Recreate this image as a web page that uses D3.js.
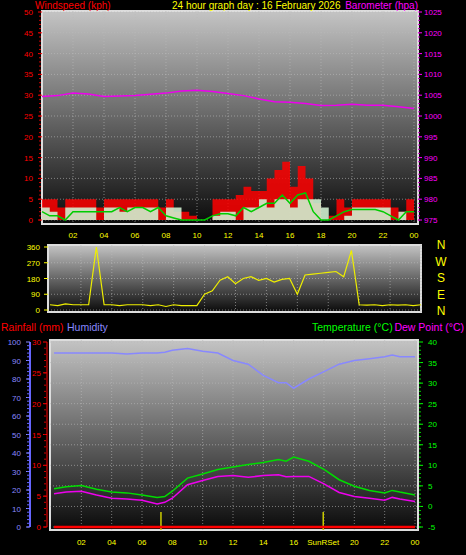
<!DOCTYPE html>
<html><head><meta charset="utf-8">
<script src="https://cdn.jsdelivr.net/npm/d3@7"></script>
<style>body{margin:0;background:#000}svg{display:block;font-family:"Liberation Sans",Arial,sans-serif}</style>
</head><body><svg id="c" width="466" height="555"></svg>
<script>
'use strict';

// Data (half-hour steps, 0..24 h)
const halfHours = d3.range(0, 24.01, 0.5);
const gust = [5,5,3,5,5,5,5,3,5,5,5,5,5,5,5,3,5,2,2,1,0,0,5,5,5,6,8,7,7,10,12,14,8,13,10,4,0,1,5,3,5,5,5,5,5,3,2,5,5];
const avgWind = [2,1,1,0,2,2,2,2,2,2,3,2,3,3,2,3,1,0.5,0,0,0,0,1,1.5,1.5,1,3,2,3,4,4,6,4,6,6.5,2,0,0,1,2,2.5,2.5,2.5,2.5,2,1,0,2,2];
const speed = [3,2,0,3,3,3,3,0,3,3,2,3,3,3,3,0,3,3,0,0,0,0,1,2,2,0,3,3,5,3,5,5,3,5,5,5,3,0,0,1,3,3,3,3,3,0,2,0,3];
const direction = [30,25,35,30,30,30,360,30,30,25,30,30,30,25,30,20,30,25,25,25,90,110,170,190,150,180,190,170,180,160,175,180,90,200,205,210,215,220,190,340,30,28,30,25,30,28,30,25,30];
const baroHours = d3.range(0, 25);
const baro = [1004.7,1004.9,1005.5,1005.3,1004.7,1004.8,1004.9,1005.2,1005.5,1006,1006.2,1005.9,1005.4,1004.9,1004.1,1003.4,1003.3,1003,1002.5,1002.6,1002.8,1002.6,1002.6,1002.2,1001.8];
const thHours = [0.2,1,2,3,4,5,6,7,7.5,8,9,10,11,12,13,14,15,15.5,16,17,18,19,20,21,22,22.5,23,24];
const humidity = [94,94,94,94,94,93.5,94,94,94.5,95.5,96.5,95,94,90,88,82,78,78,75,80,84,88,90,91,92,93,92,92];
const temperature = [4.3,4.8,5.1,4.2,3.5,3.3,2.8,2.2,2.4,3.7,6.9,7.9,9,9.6,10.2,10.7,11.4,11,12,11,9,6.5,4.9,3.9,3.3,3.9,3.5,2.8];
const dewPoint = [3.1,3.5,3.7,2.8,2,1.8,1.5,0.6,1,2,5.3,6.3,7.3,7.5,7.1,7.5,7.7,7.2,7.3,7.3,5.5,3.4,2.4,2,1.5,2.2,1.8,1.2];
const rainfall = [0,0,0,0,0,0,0,0,0,0,0,0,0,0,0,0,0,0,0,0,0,0,0,0,0,0,0,0];
const hourTicks = [2,4,6,8,10,12,14,16,18,20,22,24];
const sunrise = 7.25, sunset = 17.95;

const svg = d3.select('#c');
const defs = svg.append('defs');
const grad = defs.append('linearGradient').attr('id', 'bg').attr('x1', 0).attr('y1', 0).attr('x2', 0).attr('y2', 1);
grad.append('stop').attr('offset', '0%').attr('stop-color', '#c4c4c4');
grad.append('stop').attr('offset', '100%').attr('stop-color', '#0a0a0a');

function text(x, y, t, color, anchor, size) {
    svg.append('text').attr('x', x).attr('y', y).attr('fill', color)
        .attr('text-anchor', anchor || 'start').attr('font-size', size || 12).text(t);
}
const hh = (h) => h === 24 ? '00' : String(h).padStart(2, '0');

function panel(x0, x1, y0, y1, sx, ticksY) {
    svg.append('rect').attr('x', x0).attr('y', y0).attr('width', x1 - x0).attr('height', y1 - y0)
        .attr('fill', 'url(#bg)').attr('stroke', '#ddd').attr('stroke-width', 2);
    const g = svg.append('g').attr('stroke', '#bbb').attr('stroke-dasharray', '1,2').attr('stroke-opacity', 0.6);
    hourTicks.forEach((h) => g.append('line').attr('x1', sx(h)).attr('x2', sx(h)).attr('y1', y0).attr('y2', y1));
    ticksY.forEach((y) => g.append('line').attr('x1', x0).attr('x2', x1).attr('y1', y).attr('y2', y));
}
function axisLabels(scale, values, x, color, anchor, tickX, tickDir) {
    values.forEach((v) => {
        text(x, scale(v) + 3, v, color, anchor, 8);
        svg.append('line').attr('x1', tickX).attr('x2', tickX + 4 * tickDir).attr('y1', scale(v)).attr('y2', scale(v)).attr('stroke', color);
    });
}
function minorTicks(scale, values, tickX, color) {
    values.forEach((v) => svg.append('line').attr('x1', tickX).attr('x2', tickX + 2).attr('y1', scale(v)).attr('y2', scale(v)).attr('stroke', color));
}

// ---------- Panel 1: wind + barometer ----------
const x1s = d3.scaleLinear().domain([0, 24]).range([42, 414]);
const yW = d3.scaleLinear().domain([0, 50]).range([220, 12]);
const yB = d3.scaleLinear().domain([975, 1025]).range([220, 12]);
panel(42, 418, 11, 224, x1s, d3.range(0, 51, 5).map(yW));
axisLabels(yW, d3.range(0, 51, 5), 33, '#f00', 'end', 38, 1);
minorTicks(yW, d3.range(0, 50, 1), 39, '#c00');
axisLabels(yB, d3.range(975, 1026, 5), 424, '#f0f', 'start', 418, 1);
minorTicks(yB, d3.range(975, 1025, 1), 418, '#c0c');
hourTicks.forEach((h) => text(x1s(h), 238, hh(h), '#ff0', 'middle', 8));
text(35, 9, 'Windspeed (kph)', '#f00', 'start', 10);
text(172, 9, '24 hour graph day : 16 February 2026', '#ff0', 'start', 10);
text(418, 9, 'Barometer (hpa)', '#f0f', 'end', 10);

const step = d3.curveStepAfter;
svg.append('path').attr('d', d3.area().curve(step).x((d, i) => x1s(halfHours[i])).y0(yW(0)).y1((d) => yW(d))(gust))
    .attr('fill', '#f00').attr('fill-opacity', 0.85);
svg.append('path').attr('d', d3.area().curve(step).x((d, i) => x1s(halfHours[i])).y0(yW(0)).y1((d) => yW(d))(speed))
    .attr('fill', '#cfeecf').attr('fill-opacity', 0.9);
svg.append('path').attr('d', d3.line().x((d, i) => x1s(halfHours[i])).y((d) => yW(d))(avgWind))
    .attr('fill', 'none').attr('stroke', '#0c0').attr('stroke-width', 1.5);
svg.append('path').attr('d', d3.line().x((d, i) => x1s(baroHours[i])).y((d) => yB(d))(baro))
    .attr('fill', 'none').attr('stroke', '#e0e').attr('stroke-width', 1.5);

// ---------- Panel 2: direction ----------
const x2s = d3.scaleLinear().domain([0, 24]).range([50, 421]);
const yD = d3.scaleLinear().domain([0, 360]).range([310, 247]);
panel(48, 421, 245, 312, x2s, [0, 90, 180, 270, 360].map(yD));
axisLabels(yD, [0, 90, 180, 270, 360], 40, '#ff0', 'end', 44, 1);
svg.append('path').attr('d', d3.line().x((d, i) => x2s(halfHours[i])).y((d) => yD(d))(direction))
    .attr('fill', 'none').attr('stroke', '#ee0').attr('stroke-width', 1.2);
['N', 'W', 'S', 'E', 'N'].forEach((c, i) => text(441, 249 + i * 16.5, c, '#ff0', 'middle', 12));

// ---------- Panel 3: temperature/humidity ----------
const x3s = d3.scaleLinear().domain([0, 24]).range([51, 415]);
const yH = d3.scaleLinear().domain([0, 100]).range([527, 342]);
const yR = d3.scaleLinear().domain([0, 30]).range([527, 342]);
const yT = d3.scaleLinear().domain([-5, 40]).range([527, 342]);
panel(50, 418, 340, 530, x3s, d3.range(-5, 41, 5).map(yT));
text(1, 331, 'Rainfall (mm)', '#f00', 'start', 10.5);
text(67, 331, 'Humidity', '#88f', 'start', 10.5);
text(312, 331, 'Temperature (°C)', '#0f0', 'start', 10.5);
text(464, 331, 'Dew Point (°C)', '#f0f', 'end', 10.5);
svg.append('line').attr('x1', 30).attr('x2', 30).attr('y1', 342).attr('y2', 527).attr('stroke', '#66f').attr('stroke-width', 2);
svg.append('line').attr('x1', 47).attr('x2', 47).attr('y1', 342).attr('y2', 527).attr('stroke', '#f00').attr('stroke-width', 1);
axisLabels(yH, d3.range(0, 101, 10), 21, '#88f', 'end', 26, 1);
minorTicks(yH, d3.range(0, 100, 2), 27, '#66f');
axisLabels(yR, d3.range(0, 31, 5), 41, '#f00', 'end', 43, 1);
minorTicks(yR, d3.range(0, 30, 1), 44, '#c00');
axisLabels(yT, d3.range(-5, 41, 5), 428, '#0f0', 'start', 419, 1);
minorTicks(yT, d3.range(-5, 40, 1), 419, '#0c0');
hourTicks.forEach((h) => { if (h !== 18) text(x3s(h), 545, hh(h), '#ff0', 'middle', 8); });
text(x3s(sunset), 545, 'SunRSet', '#ff0', 'middle', 8);
[sunrise, sunset].forEach((h) => svg.append('line').attr('x1', x3s(h)).attr('x2', x3s(h)).attr('y1', 512).attr('y2', 530).attr('stroke', '#cc0').attr('stroke-width', 1.5));

const line3 = (arr, y) => d3.line().x((d, i) => x3s(thHours[i])).y((d) => y(d))(arr);
svg.append('path').attr('d', line3(humidity, yH)).attr('fill', 'none').attr('stroke', '#88f').attr('stroke-width', 1.5);
svg.append('path').attr('d', line3(temperature, yT)).attr('fill', 'none').attr('stroke', '#0d0').attr('stroke-width', 1.5);
svg.append('path').attr('d', line3(dewPoint, yT)).attr('fill', 'none').attr('stroke', '#e0e').attr('stroke-width', 1.5);
svg.append('path').attr('d', line3(rainfall, yR)).attr('fill', 'none').attr('stroke', '#f00').attr('stroke-width', 2.5);
</script></body></html>
